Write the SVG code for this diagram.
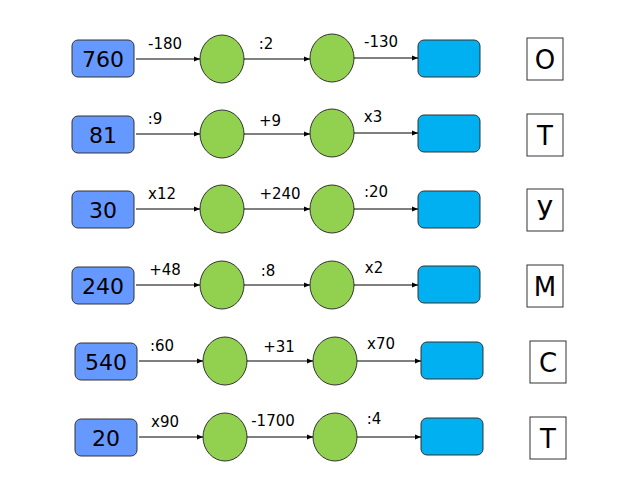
<svg xmlns="http://www.w3.org/2000/svg" width="640" height="480" viewBox="0 0 640 480">
<defs><marker id="a" viewBox="0 0 10 10" refX="10" refY="5" markerWidth="6" markerHeight="6" orient="auto"><path d="M0,1 L10,5 L0,9z" fill="#000"/></marker>
<style>.s{fill:#6699ff;stroke:#333;stroke-width:1}.c{fill:#92d050;stroke:#333}.t{fill:#00b0f0;stroke:#333}.l{fill:#fff;stroke:#333}.n{font:22px "DejaVu Sans",sans-serif;text-anchor:middle}.k{font:15px "DejaVu Sans",sans-serif;text-anchor:middle}.L{font:26px "DejaVu Sans",sans-serif;text-anchor:middle}line{stroke:#000;stroke-width:1;marker-end:url(#a)}</style></defs>
<rect width="640" height="480" fill="#fff"/>
<g id="r1"><rect class="s" x="72" y="40" width="62" height="37" rx="6"/><text class="n" x="103" y="67">760</text><ellipse class="c" cx="222" cy="59" rx="22" ry="24"/><ellipse class="c" cx="332" cy="58" rx="22" ry="24"/><rect class="t" x="418" y="40" width="62" height="37" rx="6"/><rect class="l" x="527" y="38" width="36" height="42"/><text class="L" x="545" y="69">О</text></g>
<g id="r2"><rect class="s" x="72" y="116" width="62" height="37" rx="6"/><text class="n" x="103" y="143">81</text><ellipse class="c" cx="222" cy="134" rx="22" ry="24"/><ellipse class="c" cx="332" cy="133" rx="22" ry="24"/><rect class="t" x="418" y="115" width="62" height="37" rx="6"/><rect class="l" x="527" y="114" width="36" height="42"/><text class="L" x="545" y="145">Т</text></g>
<g id="r3"><rect class="s" x="72" y="191" width="62" height="37" rx="6"/><text class="n" x="103" y="218">30</text><ellipse class="c" cx="222" cy="209" rx="22" ry="24"/><ellipse class="c" cx="332" cy="209" rx="22" ry="24"/><rect class="t" x="418" y="191" width="62" height="37" rx="6"/><rect class="l" x="527" y="189" width="36" height="42"/><text class="L" x="545" y="220">У</text></g>
<g id="r4"><rect class="s" x="72" y="267" width="62" height="37" rx="6"/><text class="n" x="103" y="294">240</text><ellipse class="c" cx="222" cy="285" rx="22" ry="24"/><ellipse class="c" cx="332" cy="285" rx="22" ry="24"/><rect class="t" x="418" y="266" width="62" height="37" rx="6"/><rect class="l" x="527" y="265" width="36" height="42"/><text class="L" x="545" y="296">М</text></g>
<g id="r5"><rect class="s" x="75" y="343" width="62" height="37" rx="6"/><text class="n" x="106" y="370">540</text><ellipse class="c" cx="225" cy="361" rx="22" ry="24"/><ellipse class="c" cx="335" cy="361" rx="22" ry="24"/><rect class="t" x="421" y="342" width="62" height="37" rx="6"/><rect class="l" x="530" y="341" width="36" height="42"/><text class="L" x="548" y="372">С</text></g>
<g id="r6"><rect class="s" x="75" y="419" width="62" height="37" rx="6"/><text class="n" x="106" y="446">20</text><ellipse class="c" cx="225" cy="437" rx="22" ry="24"/><ellipse class="c" cx="335" cy="437" rx="22" ry="24"/><rect class="t" x="421" y="418" width="62" height="37" rx="6"/><rect class="l" x="530" y="417" width="36" height="42"/><text class="L" x="548" y="448">Т</text></g>
<g id="connectors">
<line x1="136" y1="59" x2="200" y2="59"/><line x1="244" y1="59" x2="310" y2="59"/><line x1="354" y1="58" x2="418" y2="58"/>
<line x1="136" y1="134" x2="200" y2="134"/><line x1="244" y1="134" x2="310" y2="134"/><line x1="354" y1="133" x2="418" y2="133"/>
<line x1="136" y1="209" x2="200" y2="209"/><line x1="244" y1="209" x2="310" y2="209"/><line x1="354" y1="209" x2="418" y2="209"/>
<line x1="136" y1="285" x2="200" y2="285"/><line x1="244" y1="285" x2="310" y2="285"/><line x1="354" y1="285" x2="418" y2="285"/>
<line x1="139" y1="361" x2="203" y2="361"/><line x1="247" y1="361" x2="313" y2="361"/><line x1="357" y1="361" x2="421" y2="361"/>
<line x1="139" y1="437" x2="203" y2="437"/><line x1="247" y1="437" x2="313" y2="437"/><line x1="357" y1="437" x2="421" y2="437"/>
</g>
<g id="labels">
<text class="k" x="165" y="49">-180</text><text class="k" x="266" y="49">:2</text><text class="k" x="381" y="47">-130</text>
<text class="k" x="155" y="124">:9</text><text class="k" x="270" y="126">+9</text><text class="k" x="373" y="122">x3</text>
<text class="k" x="162" y="199">x12</text><text class="k" x="280" y="199">+240</text><text class="k" x="376" y="197">:20</text>
<text class="k" x="165" y="275">+48</text><text class="k" x="268" y="276">:8</text><text class="k" x="374" y="273">x2</text>
<text class="k" x="162" y="351">:60</text><text class="k" x="279" y="352">+31</text><text class="k" x="381" y="349">x70</text>
<text class="k" x="165" y="427">x90</text><text class="k" x="273" y="426">-1700</text><text class="k" x="374" y="424">:4</text>
</g>
</svg>
